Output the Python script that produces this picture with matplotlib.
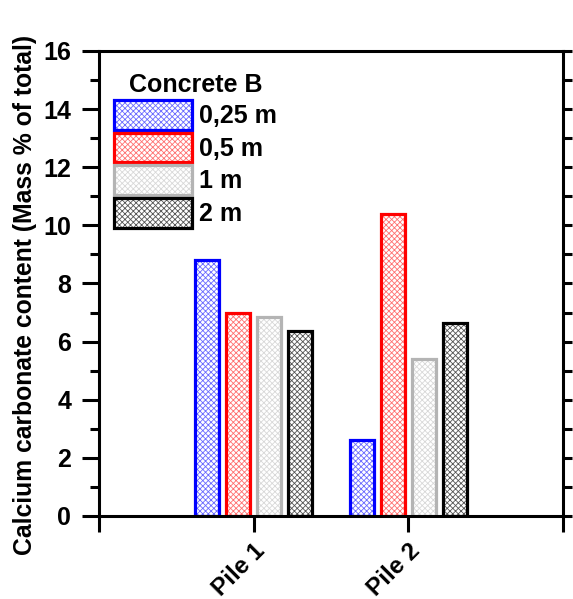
import matplotlib.pyplot as plt
import numpy as np
from matplotlib.patches import Patch
from matplotlib.ticker import MultipleLocator, FixedLocator

plt.rcParams['font.family'] = ['Liberation Sans', 'DejaVu Sans']
plt.rcParams['font.weight'] = 'bold'
plt.rcParams['hatch.linewidth'] = 0.6

piles = ['Pile 1', 'Pile 2']
depths = ['0,25 m', '0,5 m', '1 m', '2 m']
values = [[8.8, 2.6],     # 0,25 m
          [6.97, 10.4],   # 0,5 m
          [6.83, 5.4],    # 1 m
          [6.35, 6.64]]   # 2 m

edge_cols = ['#0000ff', '#ff0000', '#b4b4b4', '#000000']
hatch_cols = ['#6a6aff', '#ff7070', '#d8d8d8', '#555555']

fig = plt.figure(figsize=(5.73, 5.99), dpi=100)
ax = fig.add_axes([0.1728, 0.1386, 0.8097, 0.7763])

x = np.arange(1, len(piles) + 1)
w = 0.155
offs = [-0.3, -0.1, 0.1, 0.3]
handles = []
for i in range(len(depths)):
    ax.bar(x + offs[i], values[i], w, color='white', edgecolor=hatch_cols[i],
           hatch='xxxxxx', linewidth=0, zorder=2)
    ax.bar(x + offs[i], values[i], w, color='none', edgecolor=edge_cols[i],
           linewidth=2.3, zorder=3)
    h1 = Patch(facecolor='white', edgecolor=hatch_cols[i], hatch='xxxxxx', linewidth=0)
    h2 = Patch(facecolor='none', edgecolor=edge_cols[i], linewidth=2.3)
    handles.append((h1, h2))

ax.set_xlim(0, 3)
ax.set_ylim(0, 16)
for s in ax.spines.values():
    s.set_linewidth(2.2)
    s.set_zorder(4)

ax.xaxis.set_major_locator(FixedLocator([0, 1, 2, 3]))
ax.set_xticklabels(['', piles[0], piles[1], ''], rotation=45, ha='right',
                   rotation_mode='anchor', fontsize=17.5, fontweight='bold')
ax.tick_params(axis='x', direction='out', length=11.5, width=2.2, pad=5)

ax.yaxis.set_major_locator(MultipleLocator(2))
ax.yaxis.set_minor_locator(MultipleLocator(1))
ax.tick_params(axis='y', which='major', direction='out', length=12.5, width=2.2,
               labelsize=18, pad=7.5)
ax.tick_params(axis='y', which='minor', direction='out', length=6.5, width=2.2)
for t in ax.get_yticklabels():
    t.set_fontweight('bold')

ax2 = ax.twinx()
ax2.set_ylim(0, 16)
ax2.yaxis.set_major_locator(MultipleLocator(1))
ax2.tick_params(axis='y', direction='out', length=6.5, width=2.2, labelright=False)
for s in ax2.spines.values():
    s.set_visible(False)

ax.set_ylabel('Calcium carbonate content (Mass % of total)', fontsize=17.8,
              fontweight='bold')
ax.yaxis.set_label_coords(-0.133, 0.475)

leg = ax.legend(handles, depths, title='Concrete B', loc='upper left',
                bbox_to_anchor=(0.0, 0.985), frameon=False, fontsize=18,
                title_fontproperties={'size': 18, 'weight': 'bold'},
                handlelength=3.1, handleheight=1.45, labelspacing=0.12,
                handletextpad=0.3, borderaxespad=0.2)
leg._legend_box.align = 'center'

fig.savefig('out.png', dpi=100)
